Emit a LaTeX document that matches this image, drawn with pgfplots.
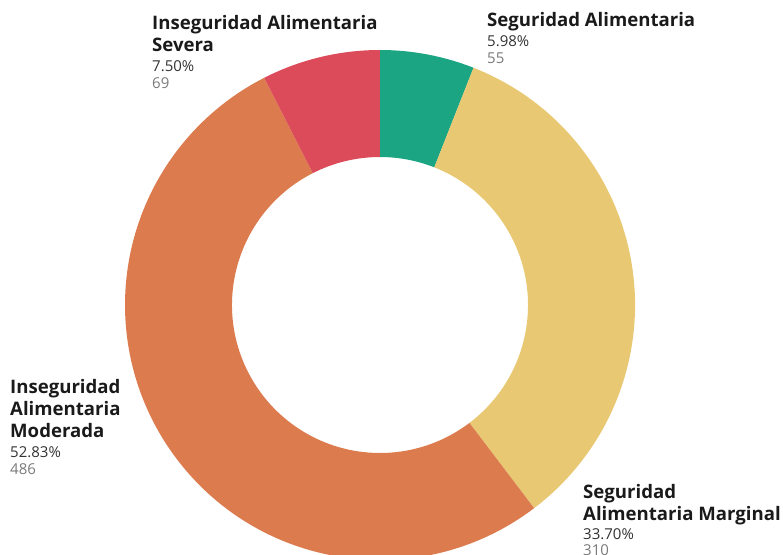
\documentclass[border=0pt]{standalone}
\usepackage{pgfplots}
\usepackage{pgfplotstable}
\pgfplotsset{compat=1.18}
\usepackage{fontspec}
\setmainfont{Open Sans}
\definecolor{cGreen}{HTML}{1BA582}
\definecolor{cYellow}{HTML}{E8C872}
\definecolor{cOrange}{HTML}{DB7B4E}
\definecolor{cRed}{HTML}{DC4B5A}
\definecolor{cTitle}{HTML}{1A1A1A}
\definecolor{cPct}{HTML}{333333}
\definecolor{cCnt}{HTML}{7A7A7A}
\pgfplotstableread{
label value
SA 55
SAM 310
IAM 486
IAS 69
}\datatable
\pgfplotstablegetelem{0}{value}\of\datatable \pgfmathsetmacro\vA{\pgfplotsretval}
\pgfplotstablegetelem{1}{value}\of\datatable \pgfmathsetmacro\vB{\pgfplotsretval}
\pgfplotstablegetelem{2}{value}\of\datatable \pgfmathsetmacro\vC{\pgfplotsretval}
\pgfplotstablegetelem{3}{value}\of\datatable \pgfmathsetmacro\vD{\pgfplotsretval}
\pgfmathsetmacro\vT{\vA+\vB+\vC+\vD}
\pgfmathsetmacro\aZ{90}
\pgfmathsetmacro\aA{\aZ-360*(\vA/\vT)}
\pgfmathsetmacro\aB{\aA-360*(\vB/\vT)}
\pgfmathsetmacro\aC{\aB-360*(\vC/\vT)}
\pgfmathsetmacro\aD{\aC-360*(\vD/\vT)}
\newcommand\slice[3]{%
  \fill[#3, shift={(axis cs:380,305)}] (#1:255pt) arc[start angle=#1, end angle=#2, radius=255pt]
    -- (#2:148pt) arc[start angle=#2, end angle=#1, radius=148pt] -- cycle;}
\begin{document}
\begin{tikzpicture}
\begin{axis}[x=1pt, y=1pt, xmin=0, xmax=783, ymin=0, ymax=554, y dir=reverse,
  hide axis, clip=true]
\coordinate (bl) at (axis cs:0,554);
\coordinate (tr) at (axis cs:783,0);
\slice{\aZ}{\aA}{cGreen}
\slice{\aA}{\aB}{cYellow}
\slice{\aB}{\aC}{cOrange}
\slice{\aC}{\aD}{cRed}
\tikzset{bt/.style={anchor=base west, inner sep=0pt, font=\fontsize{18.6}{21}\selectfont\bfseries, text=cTitle},
  pt/.style={anchor=base west, inner sep=0pt, font=\fontsize{15}{18}\selectfont, text=cPct},
  ct/.style={anchor=base west, inner sep=0pt, font=\fontsize{15}{18}\selectfont, text=cCnt}}
% Severa
\node[bt] at (axis cs:152,29) {Inseguridad Alimentaria};
\node[bt] at (axis cs:152,51) {Severa};
\node[pt] at (axis cs:152,71) {7.50\%};
\node[ct] at (axis cs:152,88) {69};
% Seguridad
\node[bt] at (axis cs:487,26) {Seguridad Alimentaria};
\node[pt] at (axis cs:487,46) {5.98\%};
\node[ct] at (axis cs:487,63) {55};
% Moderada
\node[bt] at (axis cs:10,393) {Inseguridad};
\node[bt] at (axis cs:10,415) {Alimentaria};
\node[bt] at (axis cs:10,437) {Moderada};
\node[pt] at (axis cs:10,457) {52.83\%};
\node[ct] at (axis cs:10,474) {486};
% Marginal
\node[bt] at (axis cs:583,498) {Seguridad};
\node[bt] at (axis cs:583,520) {Alimentaria Marginal};
\node[pt] at (axis cs:583,539) {33.70\%};
\node[ct] at (axis cs:583,555) {310};
\end{axis}
\pgfresetboundingbox
\useasboundingbox (bl) rectangle (tr);
\end{tikzpicture}
\end{document}
